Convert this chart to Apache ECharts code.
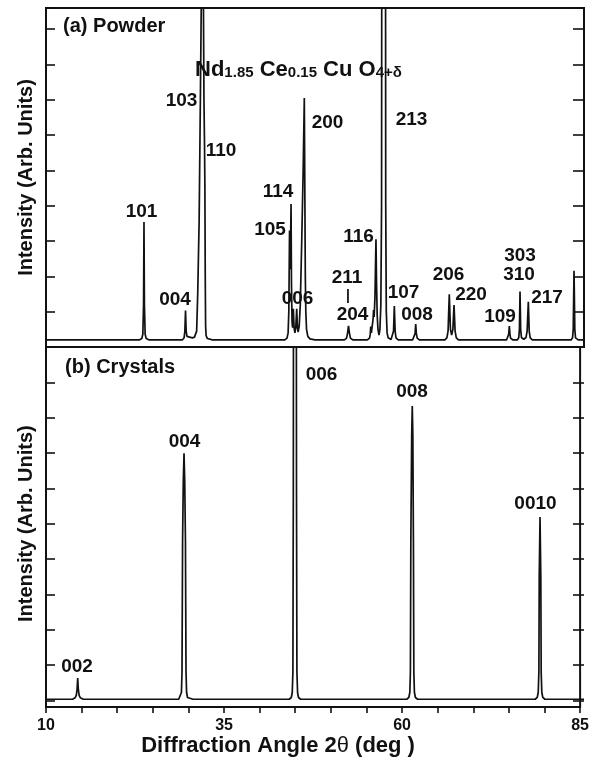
<!DOCTYPE html>
<html>
<head>
<meta charset="utf-8">
<script src="https://cdn.jsdelivr.net/npm/echarts@6/dist/echarts.min.js"></script>
<style>
  html, body { margin: 0; padding: 0; background: #fff; }
  #chart { width: 592px; height: 759px; }
</style>
</head>
<body>
<div id="chart"></div>
<script>
// ---------------- data ----------------
const xTickLabels = [10, 35, 60, 85];

// Powder pattern trace [2theta (deg), intensity (arb.)]
const powderTrace = [
  [10, 2.0], [22.5, 2.0],
  [23.0, 2.0], [23.35, 2.4], [23.5, 3.6], [23.6, 12], [23.66, 35.4], [23.72, 12], [23.82, 3.6], [23.97, 2.4], [24.4, 2.0], [28.5, 2.0],
  [29.0, 2.0], [29.25, 2.6], [29.36, 4.5], [29.45, 10.3], [29.54, 4.5], [29.65, 3.0], [29.9, 2.6], [30.4, 2.6],
  [30.7, 2.8], [30.9, 3.3], [31.0, 4.5], [31.15, 15], [31.35, 36], [31.52, 70], [31.66, 100], [31.74, 200],
  [31.86, 200], [31.94, 100], [32.02, 70], [32.1, 57.2], [32.15, 45], [32.2, 20], [32.25, 6], [32.32, 3.2], [32.5, 2.4], [33.2, 2.0], [42.8, 2.0],
  [43.3, 2.0], [43.6, 2.5], [43.75, 4], [43.85, 10], [43.95, 33], [44.02, 22], [44.1, 30], [44.16, 40.5], [44.22, 18],
  [44.3, 7], [44.38, 5.5], [44.48, 10.8], [44.58, 5.5], [44.7, 4], [44.82, 5.5], [44.95, 10.8], [45.05, 5.5], [45.15, 4.2],
  [45.3, 6], [45.45, 12], [45.65, 30], [45.85, 50], [46.01, 70.5], [46.08, 45], [46.15, 20], [46.22, 10], [46.32, 5],
  [46.5, 3], [46.8, 2.3], [47.5, 2.0], [51.2, 2.0],
  [51.6, 2.0], [51.9, 2.5], [52.03, 3.8], [52.17, 6.0], [52.31, 3.8], [52.44, 2.5], [52.8, 2.0], [54.4, 2.0],
  [54.8, 2.0], [55.1, 2.5], [55.2, 3.5], [55.27, 5.8], [55.36, 4], [55.5, 4.2], [55.6, 8], [55.66, 10.5], [55.74, 8.5],
  [55.86, 14], [56.0, 30.5], [56.08, 18], [56.17, 9], [56.28, 5], [56.42, 3.4], [56.55, 5], [56.68, 12], [56.78, 40],
  [56.84, 200], [57.3, 200], [57.36, 40], [57.44, 10], [57.55, 4], [57.7, 2.6], [57.95, 2.2],
  [58.1, 2.1], [58.33, 2.6], [58.45, 4.5], [58.56, 11.6], [58.67, 4.5], [58.79, 2.6], [59.1, 2.0], [60.7, 2.0],
  [61.1, 2.0], [61.33, 2.5], [61.45, 3.8], [61.54, 6.5], [61.63, 3.8], [61.75, 2.5], [62.05, 2.0], [62.4, 2.0], [65.2, 2.0],
  [65.6, 2.0], [65.88, 2.6], [66.05, 4.5], [66.22, 14.9], [66.38, 5], [66.55, 3.4], [66.72, 5], [66.88, 11.9],
  [67.03, 4.5], [67.2, 2.6], [67.5, 2.0], [73.8, 2.0],
  [74.2, 2.0], [74.42, 2.5], [74.5, 3.6], [74.59, 5.9], [74.68, 3.6], [74.76, 2.5], [75.1, 2.0], [75.4, 2.0],
  [75.7, 2.0], [75.9, 2.6], [76.0, 5], [76.08, 15.7], [76.17, 5], [76.28, 2.7], [76.6, 2.2], [76.92, 2.7],
  [77.07, 4.5], [77.24, 12.8], [77.36, 4.5], [77.5, 2.6], [77.8, 2.0], [82.8, 2.0],
  [83.2, 2.0], [83.4, 2.6], [83.5, 5], [83.61, 21.6], [83.72, 5], [83.82, 2.6], [84.2, 2.0],
  [85, 2.0]
];

// Crystal pattern trace [2theta (deg), intensity (arb.)]
const crystalTrace = [
  [10, 0.3], [13.3, 0.3],
  [13.7, 0.3], [14.05, 0.7], [14.22, 1.4], [14.33, 3], [14.42, 6.3], [14.51, 3], [14.62, 1.4], [14.79, 0.7], [15.2, 0.3], [28.0, 0.3],
  [28.5, 0.3], [28.75, 0.8], [28.88, 2.2], [28.96, 8], [29.04, 45], [29.14, 62], [29.24, 69.9], [29.34, 62], [29.44, 45],
  [29.52, 8], [29.6, 2.2], [29.73, 0.8], [30.0, 0.3], [30.5, 0.3], [43.5, 0.3],
  [43.9, 0.3], [44.2, 0.8], [44.33, 2.2], [44.42, 8], [44.48, 60], [44.53, 200], [44.87, 200], [44.92, 60], [44.98, 8],
  [45.07, 2.2], [45.2, 0.8], [45.5, 0.3], [46.0, 0.3], [59.9, 0.3],
  [60.3, 0.3], [60.58, 0.8], [60.72, 2.2], [60.8, 8], [60.86, 45], [60.98, 75], [61.06, 83.3], [61.14, 75], [61.22, 45],
  [61.28, 8], [61.36, 2.2], [61.5, 0.8], [61.8, 0.3], [62.3, 0.3], [77.8, 0.3],
  [78.2, 0.3], [78.48, 0.8], [78.62, 2.2], [78.71, 8], [78.76, 35], [78.87, 51.9], [78.98, 35], [79.03, 8], [79.12, 2.2],
  [79.26, 0.8], [79.55, 0.3], [80.0, 0.3],
  [85, 0.3]
];

// Reflection labels: [text, 2theta, intensity]
const powderPeakLabels = [
  ['101', 23.31, 38.2], ['004', 27.98, 13.3], ['103', 28.89, 69.7], ['110', 34.40, 55.5],
  ['105', 41.23, 33.1], ['114', 42.34, 43.9], ['006', 45.06, 13.6], ['200', 49.24, 63.5],
  ['211', 51.96, 19.5], ['204', 52.73, 9.2], ['116', 53.57, 31.2], ['213', 60.96, 64.3],
  ['107', 59.84, 15.3], ['008', 61.72, 9.2], ['206', 66.11, 20.4], ['220', 69.25, 14.7],
  ['109', 73.29, 8.5], ['303', 76.08, 25.8], ['310', 75.94, 20.5], ['217', 79.84, 14.0]
];
const powderMarker = ['|', 52.1, 14.4];
const crystalPeakLabels = [
  ['002', 14.32, 9.4], ['004', 29.31, 73.3], ['006', 48.41, 92.0], ['008', 61.03, 87.3], ['0010', 78.24, 55.5]
];
const panelTitles = [['(a) Powder', 12.37, 90.9], ['(b) Crystals', 12.65, 94.3]];
const formulaParts = ['Nd', '1.85', 'Ce', '0.15', 'Cu', 'O', '4+δ'];
const formulaAt = [30.77, 78.5];

const yTitle = 'Intensity (Arb. Units)';
const xTitleParts = ['Diffraction Angle 2', 'θ', ' (deg )'];

// ---------------- chart ----------------
const FONT = '"Liberation Sans", Arial, Helvetica, sans-serif';
const INK = '#111';
const chart = echarts.init(document.getElementById('chart'), null, { renderer: 'canvas' });

const yTickAxis = (grid, pos, max, len, withName) => ({
  type: 'value', gridIndex: grid, position: pos, min: 0, max: max, interval: 10,
  axisLine: { show: false },
  axisTick: { show: true, inside: true, length: len, lineStyle: { color: INK, width: 1.6 } },
  axisLabel: { show: false }, splitLine: { show: false },
  name: withName ? yTitle : '', nameLocation: 'middle', nameGap: 10,
  nameTextStyle: { fontFamily: FONT, fontSize: 20, fontWeight: 'bold', color: INK }
});

const labelSeries = (xi, yi, items) => ({
  type: 'scatter', xAxisIndex: xi, yAxisIndex: yi, symbolSize: 0.1, silent: true,
  itemStyle: { color: 'transparent', opacity: 1 },
  emphasis: { disabled: true },
  label: {
    show: true, position: 'inside', formatter: '{b}', color: INK, opacity: 1,
    fontFamily: FONT, fontSize: 19, fontWeight: 'bold',
    rich: {
      n: { fontFamily: FONT, fontSize: 22, fontWeight: 'bold', color: INK, lineHeight: 22 },
      s: { fontFamily: FONT, fontSize: 15, fontWeight: 'bold', color: INK, lineHeight: 15, verticalAlign: 'bottom' }
    }
  },
  data: items
});

const powderItems = powderPeakLabels.map(d => ({ name: d[0], value: [d[1], d[2]] }));
powderItems.push({ name: powderMarker[0], value: [powderMarker[1], powderMarker[2]], label: { fontSize: 14 } });
powderItems.push({ name: panelTitles[0][0], value: [panelTitles[0][1], panelTitles[0][2]], label: { position: 'right', distance: 0, fontSize: 20 } });
const f = formulaParts;
powderItems.push({
  name: 'formula', value: formulaAt,
  label: { position: 'right', distance: 0,
    formatter: `{n|${f[0]}}{s|${f[1]}}{n| ${f[2]}}{s|${f[3]}}{n| ${f[4]} ${f[5]}}{s|${f[6]}}` }
});
const crystalItems = crystalPeakLabels.map(d => ({ name: d[0], value: [d[1], d[2]] }));
crystalItems.push({ name: panelTitles[1][0], value: [panelTitles[1][1], panelTitles[1][2]], label: { position: 'right', distance: 0, fontSize: 20 } });

const hiddenX = (grid) => ({ type: 'value', gridIndex: grid, min: 10, max: 85, show: false });

const option = {
  animation: false,
  backgroundColor: '#fff',
  textStyle: { fontFamily: FONT },
  grid: [
    { left: 46, right: 8, top: 8, height: 339, show: true, borderColor: INK, borderWidth: 2, backgroundColor: 'transparent' },
    { left: 46, right: 8, top: 347, height: 353.3, show: false },
    { left: 46, right: 8, top: 347, height: 360, show: true, borderColor: INK, borderWidth: 2, backgroundColor: 'transparent' }
  ],
  xAxis: [
    hiddenX(0),
    hiddenX(1),
    {
      type: 'value', gridIndex: 2, min: 10, max: 85, interval: 5,
      axisLine: { show: true, lineStyle: { color: INK, width: 2 } },
      axisTick: { show: true, inside: false, length: 6, lineStyle: { color: INK, width: 1.6 } },
      axisLabel: {
        show: true, interval: 0, margin: 11, color: INK, fontFamily: FONT, fontSize: 16, fontWeight: 'bold',
        formatter: v => (xTickLabels.indexOf(v) >= 0 ? String(v) : '')
      },
      splitLine: { show: false },
      name: `{b|${xTitleParts[0]}}{t|${xTitleParts[1]}}{b|${xTitleParts[2]}}`,
      nameLocation: 'middle', nameGap: 28,
      nameTextStyle: {
        fontFamily: FONT, fontSize: 22, fontWeight: 'bold', color: INK, padding: [0, 70, 0, 0],
        rich: {
          b: { fontFamily: FONT, fontSize: 22, fontWeight: 'bold', color: INK },
          t: { fontFamily: FONT, fontSize: 22, fontWeight: 'normal', color: INK }
        }
      }
    }
  ],
  yAxis: [
    yTickAxis(0, 'left', 96, 9, true),
    yTickAxis(0, 'right', 96, 11, false),
    yTickAxis(1, 'left', 100, 9, true),
    yTickAxis(1, 'right', 100, 11, false),
    { type: 'value', gridIndex: 2, min: 0, max: 1, show: false }
  ],
  series: [
    {
      type: 'line', xAxisIndex: 0, yAxisIndex: 0, data: powderTrace, showSymbol: false, symbol: 'none',
      clip: true, silent: true, lineStyle: { color: INK, width: 1.7 }
    },
    {
      type: 'line', xAxisIndex: 1, yAxisIndex: 2, data: crystalTrace, showSymbol: false, symbol: 'none',
      clip: true, silent: true, lineStyle: { color: INK, width: 1.7 }
    },
    labelSeries(0, 0, powderItems),
    labelSeries(1, 2, crystalItems)
  ]
};
chart.setOption(option);
</script>
</body>
</html>
